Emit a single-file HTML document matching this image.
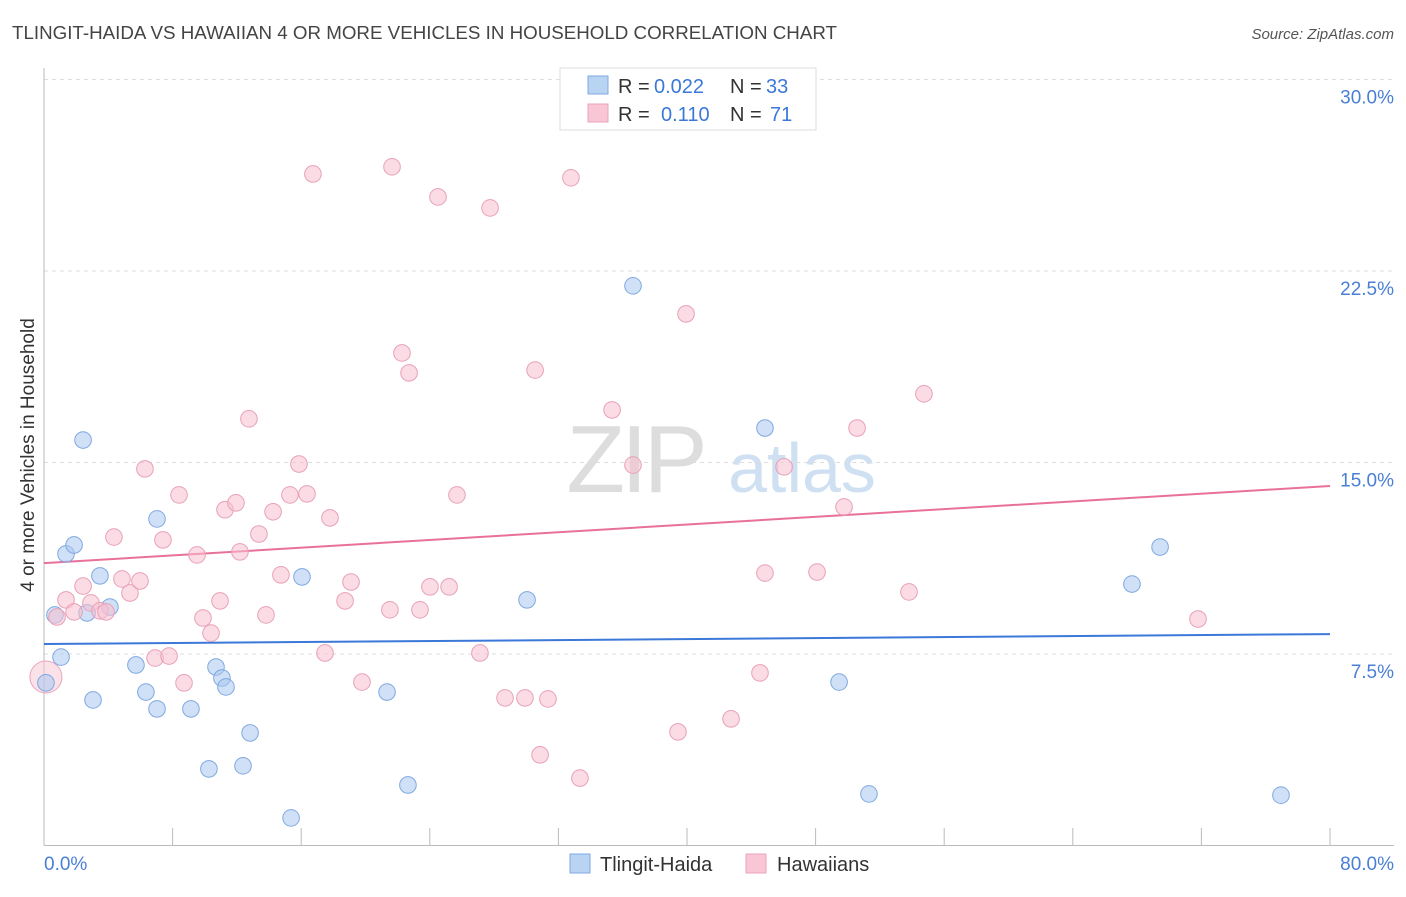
<!DOCTYPE html>
<html><head><meta charset="utf-8"><style>
body{margin:0;background:#fff;font-family:"Liberation Sans",sans-serif}
svg text{font-family:"Liberation Sans",sans-serif}
</style></head><body>
<svg id="chart" width="1406" height="892" xmlns="http://www.w3.org/2000/svg">
<text x="12" y="39" font-size="18.6" fill="#444" textLength="825" lengthAdjust="spacingAndGlyphs">TLINGIT-HAIDA VS HAWAIIAN 4 OR MORE VEHICLES IN HOUSEHOLD CORRELATION CHART</text>
<text x="1394" y="39" font-size="15" fill="#555" font-style="italic" text-anchor="end">Source: ZipAtlas.com</text>
<g>
<text x="635" y="492" font-size="96" fill="#ddd" font-family="Liberation Serif" text-anchor="middle" letter-spacing="-4">ZIP</text>
<text x="802" y="492" font-size="70" fill="#cfe0f3" text-anchor="middle">atlas</text></g>
<g id="grid"></g><g id="axes"></g><g id="lines"></g><g id="pts"></g>
<text transform="translate(34,455) rotate(-90)" font-size="19" fill="#333" text-anchor="middle">4 or more Vehicles in Household</text>
<text x="44" y="870" font-size="19" fill="#4a7fd6">0.0%</text>
<text x="1394" y="870" font-size="19" fill="#4a7fd6" text-anchor="end">80.0%</text>
<g>
<rect x="560" y="68" width="256" height="62" fill="#fff" stroke="#ddd"/>
<rect x="588" y="76" width="20" height="18" fill="#b9d3f3" stroke="#7fa8e0"/>
<rect x="588" y="104" width="20" height="18" fill="#f8c6d4" stroke="#eaa3bb"/>
<text x="618" y="93" font-size="20" fill="#333">R =</text>
<text x="654" y="93" font-size="20" fill="#3b78d8">0.022</text>
<text x="730" y="93" font-size="20" fill="#333">N =</text>
<text x="766" y="93" font-size="20" fill="#3b78d8">33</text>
<text x="618" y="121" font-size="20" fill="#333">R =</text>
<text x="661" y="121" font-size="20" fill="#3b78d8">0.110</text>
<text x="730" y="121" font-size="20" fill="#333">N =</text>
<text x="770" y="121" font-size="20" fill="#3b78d8">71</text></g>
<g>
<rect x="570" y="854" width="20" height="19" fill="#b9d3f3" stroke="#7fa8e0"/>
<text x="600" y="871" font-size="20" fill="#333">Tlingit-Haida</text>
<rect x="746" y="854" width="20" height="19" fill="#f8c6d4" stroke="#eaa3bb"/>
<text x="777" y="871" font-size="20" fill="#333">Hawaiians</text></g>
</svg>
<script>
const yTicks=[7.5,15,22.5,30];
const yTickLabels=["7.5%","15.0%","22.5%","30.0%"];
const xTicks=[0,8,16,24,32,40,48,56,64,72,80];
const blueX=[0.68,1.37,1.87,2.43,1.06,2.68,3.48,4.10,3.05,5.72,6.34,7.03,7.03,9.14,10.26,10.70,11.07,11.32,12.38,12.82,15.37,16.05,21.34,22.64,30.05,36.64,44.85,49.46,51.32,67.68,69.43,76.95,0.12];
const blueY=[9.03,11.42,11.77,15.88,7.38,9.11,10.56,9.34,5.70,7.07,6.01,12.79,5.35,5.35,3.00,6.99,6.56,6.21,3.12,4.41,1.08,10.52,6.01,2.37,9.62,21.92,16.35,6.40,2.02,10.24,11.69,1.97,6.37];
const pinkX=[0.12,0.81,1.37,1.87,2.43,2.92,3.48,3.86,4.35,4.85,5.35,5.97,6.28,6.91,7.40,7.78,8.40,8.71,9.52,9.89,10.39,10.95,11.26,11.94,12.19,12.75,13.37,13.81,14.25,14.74,15.30,15.86,16.36,16.73,17.48,17.79,18.73,19.10,19.78,21.52,21.65,22.27,22.71,23.39,24.01,24.51,25.20,25.69,27.12,27.75,28.68,29.92,30.55,30.86,31.35,32.78,33.34,35.34,36.64,39.44,39.94,42.74,44.54,44.85,46.04,48.09,49.77,50.58,53.81,54.74,71.79];
const pinkY=[6.60,8.95,9.62,9.15,10.16,9.50,9.19,9.15,12.08,10.44,9.89,10.36,14.75,7.34,11.97,7.42,13.73,6.37,11.38,8.91,8.32,9.58,13.15,13.42,11.50,16.71,12.20,9.03,13.07,10.60,13.73,14.94,13.77,26.30,7.54,12.83,9.58,10.32,6.40,9.23,26.58,19.29,18.51,9.23,10.13,25.40,10.13,13.73,7.54,24.97,5.78,5.78,18.62,3.55,5.74,26.15,2.64,17.06,14.90,4.45,20.82,4.96,6.76,10.67,14.83,10.71,13.26,16.35,9.93,17.69,8.87];
const blueTrend=[7.89,8.28];
const pinkTrend=[11.06,14.08];
const X=v=>44+v/80*1286, Y=v=>845.5-v/7.5*191.5;
const NS="http://www.w3.org/2000/svg";
function mk(parent,tag,attrs){const e=document.createElementNS(NS,tag);for(const k in attrs)e.setAttribute(k,attrs[k]);document.getElementById(parent).appendChild(e);return e;}
yTicks.forEach((t,i)=>{
 const l=mk('grid','line',{x1:44,x2:1394,y1:Y(t),y2:Y(t),stroke:'#ddd','stroke-dasharray':'4,4'});
 
 
 const tx=mk('grid','text',{x:1394,y:Y(t)+24,'font-size':19,fill:'#4a7fd6','text-anchor':'end'});
 tx.textContent=yTickLabels[i];
 
 
});
const xa=mk('axes','line',{x1:44,x2:1394,y1:845.5,y2:845.5,stroke:'#bbb'});


const ya=mk('axes','line',{x1:44,x2:44,y1:68,y2:845.5,stroke:'#bbb'});


xTicks.forEach(t=>{
 const l=mk('axes','line',{x1:X(t),x2:X(t),y1:828,y2:845.5,stroke:'#bbb'});
 
 
});
function pts(xs,ys,fill,stroke,name){
 xs.forEach((x,i)=>{
  const c=mk('pts','circle',{cx:X(x),cy:Y(ys[i]),r:8.3,fill:fill,'fill-opacity':0.55,stroke:stroke,'stroke-width':1});
  
  
 });
}
const big=mk('pts','circle',{cx:X(pinkX[0]),cy:Y(pinkY[0]),r:16,fill:'#f8c6d4','fill-opacity':0.5,stroke:'#eaa3bb'});


pts(blueX,blueY,'#a9c8f0','#7fa8e0','tlingit-haida-point');
pts(pinkX.slice(1),pinkY.slice(1),'#f8c0d0','#e8a0b8','hawaiian-point');
const bl=mk('lines','line',{x1:X(0),x2:X(80),y1:Y(blueTrend[0]),y2:Y(blueTrend[1]),stroke:'#3b78d8','stroke-width':2});


const pl=mk('lines','line',{x1:X(0),x2:X(80),y1:Y(pinkTrend[0]),y2:Y(pinkTrend[1]),stroke:'#e8709a','stroke-width':2});


</script>
</body></html>
